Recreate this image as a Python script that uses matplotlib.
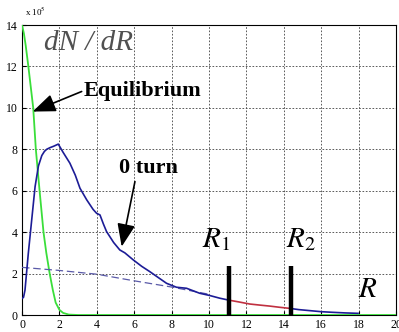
import matplotlib
matplotlib.use("Agg")
import matplotlib.pyplot as plt

plt.rcParams['mathtext.fontset'] = 'stix'
plt.rcParams['font.family'] = ['Liberation Serif', 'DejaVu Serif']

# ---- data (units of 1e5) ----
green_x = [0, 0.1, 0.2, 0.34, 0.47, 0.6, 0.74, 0.94, 1.15, 1.3, 1.48, 1.65, 1.8, 2.0, 2.2, 2.5, 3.0, 20]
green_y = [14, 13.6, 13.0, 12.0, 11.0, 10.0, 8.0, 6.0, 4.0, 3.0, 2.0, 1.2, 0.6, 0.25, 0.1, 0.02, 0, 0]

blue_x = [0.0, 0.08, 0.16, 0.34, 0.52, 0.70, 0.88, 1.06, 1.2, 1.32, 1.5, 1.7, 1.94, 2.2, 2.56, 2.85,
          3.10, 3.46, 3.8, 3.99, 4.17, 4.35, 4.52, 4.9, 5.23, 5.5, 5.95, 6.4, 6.84, 7.3, 7.73,
          8.26, 8.8, 9.5, 10.0, 10.58, 11.05]
blue_y = [0.8, 0.85, 1.2, 3.0, 4.6, 6.2, 7.2, 7.7, 7.9, 8.0, 8.08, 8.15, 8.25, 7.85, 7.33, 6.75,
          6.12, 5.56, 5.1, 4.91, 4.83, 4.4, 4.03, 3.5, 3.14, 3.0, 2.66, 2.35, 2.09, 1.8, 1.53,
          1.34, 1.29, 1.05, 0.95, 0.81, 0.72]

red_x = [11.05, 11.6, 12.18, 12.7, 13.25, 13.8, 14.32]
red_y = [0.72, 0.63, 0.53, 0.48, 0.43, 0.37, 0.32]

tail_x = [14.32, 14.8, 15.4, 16.0, 16.6, 17.3, 17.97]
tail_y = [0.32, 0.26, 0.21, 0.16, 0.13, 0.1, 0.08]

fit_x = [0, 2, 4, 6, 8, 10]
fit_y = [2.3, 2.15, 1.97, 1.65, 1.35, 1.0]

R1, R2 = 11.05, 14.38
bar_h = 2.37

fig = plt.figure(figsize=(3.99, 3.32), dpi=100)
ax = fig.add_axes([22/399, 1-315/332, 374/399, 290/332])

ax.plot(green_x, green_y, color='#3ade3a', lw=1.3, zorder=3)
ax.plot(fit_x, fit_y, color='#5a5aa8', lw=0.9, ls=(0, (6, 3)), zorder=3)
ax.plot(blue_x, blue_y, color='#1c1c96', lw=1.2, zorder=4)
ax.plot(red_x, red_y, color='#c03040', lw=1.2, zorder=4)
ax.plot(tail_x, tail_y, color='#1c1c96', lw=1.2, zorder=4)
ax.vlines([R1, R2], 0, bar_h, color='black', lw=3.2, zorder=5)

ax.set_xlim(0, 20)
ax.set_ylim(0, 14)
ax.set_xticks(range(0, 21, 2))
ax.set_yticks(range(0, 15, 2))
ax.grid(True, color='#404040', ls=(0, (2, 2)), lw=0.6)
ax.tick_params(direction='in', length=3, labelsize=8.5, pad=3)
for s in ax.spines.values():
    s.set_linewidth(0.8)

fig.text(25/399, 1-12/332, r'x 10$^5$', fontsize=6.5, va='center', ha='left')

ax.text(1.18, 12.8, 'dN / dR', fontsize=21, style='italic', color='#505050', va='baseline')
ax.text(3.27, 10.59, 'Equilibrium', fontsize=16, fontweight='bold', va='baseline')
ax.text(5.2, 6.85, '0 turn', fontsize=16, fontweight='bold', va='baseline')

arr = dict(arrowstyle='-|>,head_length=1.4,head_width=0.55', color='black', lw=1.2,
           shrinkA=0, shrinkB=0)
ax.annotate('', xy=(0.57, 9.82), xytext=(3.19, 10.79), arrowprops=arr)
ax.annotate('', xy=(5.33, 3.30), xytext=(6.04, 6.44), arrowprops=arr)

ax.text(9.6, 3.3, r'$R_1$', fontsize=21, va='baseline')
ax.text(14.14, 3.3, r'$R_2$', fontsize=21, va='baseline')
ax.text(17.95, 0.88, r'$R$', fontsize=21, va='baseline')

fig.savefig('out.png', dpi=100)
